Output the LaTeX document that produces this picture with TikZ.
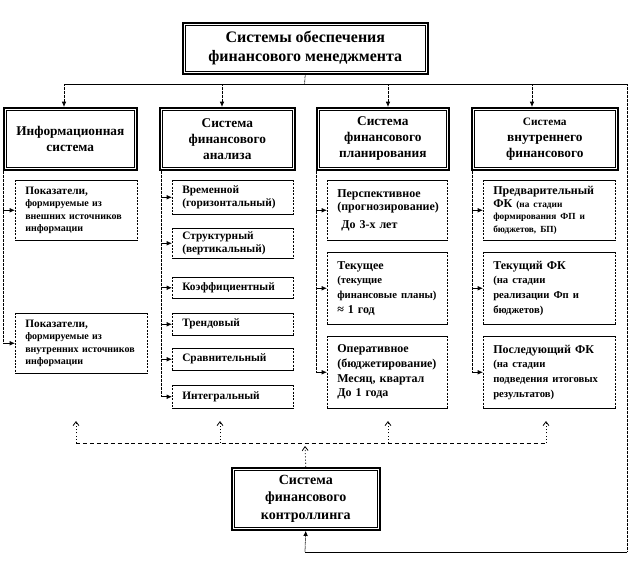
\documentclass[tikz,border=0pt]{standalone}
\usepackage{fontspec}
\setmainfont{Liberation Serif}
\usetikzlibrary{arrows.meta}
\newcommand\setfs[2]{\fontsize{#1}{#2}\selectfont}
\begin{document}
\begin{tikzpicture}[x=0.75pt,y=-0.75pt,
  dbl/.style={draw, line width=1.2pt, anchor=north west, inner sep=0pt, align=center},
  itm/.style={anchor=north west, inner ysep=0pt, inner xsep=7.5pt, align=left},
  thinl/.style={line width=0.6pt},
  dotl/.style={line width=0.6pt, dash pattern=on 0.5pt off 0.5pt},
  sdot/.style={line width=0.6pt, dash pattern=on 0.8pt off 1.6pt},
  dsh/.style={line width=0.6pt, dash pattern=on 3pt off 2.2pt},
  fa/.style={-{Latex[length=4pt,width=3.5pt]}},
  oa/.style={-{Straight Barb[length=3pt,width=4.5pt]}},
  hfont/.style={font={\bfseries\setfs{10}{12}}},
]
\useasboundingbox (0,0) rectangle (640,576);

% main boxes
\node[dbl, minimum width=183.75pt, minimum height=38.25pt, font={\bfseries\setfs{12}{14}}] (top) at (182,22)
  {Системы обеспечения\\финансового менеджмента};
\node[dbl, hfont, minimum width=99.75pt, minimum height=46.5pt] (h1) at (3,107)
  {Информационная\\система};
\node[dbl, hfont, minimum width=101.25pt, minimum height=46.5pt] (h2) at (159,107)
  {Система\\финансового\\анализа};
\node[dbl, hfont, minimum width=99pt, minimum height=46.5pt] (h3) at (316,107)
  {Система\\финансового\\планирования};
\node[dbl, hfont, minimum width=109.5pt, minimum height=46.5pt] (h4) at (471,107)
  {{\setfs{8.5}{12}Система}\\внутреннего\\финансового};
\node[dbl, font={\bfseries\setfs{10.5}{13}}, minimum width=111pt, minimum height=46.5pt] (ctl) at (231,467)
  {Система\\финансового\\контроллинга};

\foreach \n in {top,h1,h2,h3,h4,ctl}
  \draw[line width=0.5pt] ([xshift=2.6pt,yshift=-2.6pt]\n.north west) rectangle ([xshift=-2.6pt,yshift=2.6pt]\n.south east);

% column 1
\node[itm, text width=76.5pt, minimum height=45pt, font={\bfseries\setfs{7.5}{9.4}}] (i11) at (15,180)
  {{\setfs{8.5}{9.4}Показатели,}\\формируемые из\\внешних источников\\информации};
\node[itm, text width=84pt, minimum height=45pt, font={\bfseries\setfs{7.5}{9.4}}] (i12) at (15,313)
  {{\setfs{8.5}{9.4}Показатели,}\\формируемые из\\внутренних источников\\информации};

% column 2
\node[itm, text width=75.75pt, minimum height=25.5pt, font={\bfseries\setfs{8.5}{9.5}}] (i21) at (172,180)
  {Временной\\(горизонтальный)};
\node[itm, text width=75.75pt, minimum height=22.5pt, font={\bfseries\setfs{8.5}{9.5}}] (i22) at (172,228)
  {Структурный\\(вертикальный)};
\node[itm, text width=75.75pt, minimum height=15.75pt, font={\bfseries\setfs{8.5}{9.5}}] (i23) at (172,277)
  {Коэффициентный};
\node[itm, text width=75.75pt, minimum height=16.5pt, font={\bfseries\setfs{8.5}{9.5}}] (i24) at (172,313)
  {Трендовый};
\node[itm, text width=75.75pt, minimum height=16.5pt, font={\bfseries\setfs{8.5}{9.5}}] (i25) at (172,348)
  {Сравнительный};
\node[itm, text width=75.75pt, minimum height=17.25pt, font={\bfseries\setfs{8.5}{9.5}}] (i26) at (172,385)
  {Интегральный};

% column 3
\node[itm, text width=75pt, minimum height=45pt, font={\bfseries\setfs{9}{9.5}}] (i31) at (327,180)
  {Перспективное\\(прогнозирование)\\[4pt]\hspace*{3pt}До 3-х лет};
\node[itm, text width=75pt, minimum height=54pt, font={\bfseries\setfs{9}{11}}] (i32) at (327,252)
  {Текущее\\{\setfs{8}{11}(текущие\\финансовые планы)}\\≈ 1 год};
\node[itm, text width=75pt, minimum height=54pt, font={\bfseries\setfs{9}{11}}] (i33) at (327,336)
  {Оперативное\\(бюджетирование)\\Месяц, квартал\\До 1 года};

% column 4
\node[itm, text width=84pt, minimum height=45pt, font={\bfseries\setfs{9}{9.5}}] (i41) at (483,180)
  {Предварительный\\ФК {\setfs{7}{9.5}(на стадии\\формирования ФП и\\бюджетов, БП)}};
\node[itm, text width=84pt, minimum height=54pt, font={\bfseries\setfs{9}{11}}] (i42) at (483,252)
  {Текущий ФК\\{\setfs{8}{11}(на стадии\\реализации Фп и\\бюджетов)}};
\node[itm, text width=84pt, minimum height=54pt, font={\bfseries\setfs{9}{11}}] (i43) at (483,336)
  {Последующий ФК\\{\setfs{8}{11}(на стадии\\подведения итоговых\\результатов)}};

\foreach \n in {i11,i12,i21,i22,i23,i24,i25,i26,i31,i32,i33,i41,i42,i43} {
  \draw[line width=0.5pt] (\n.north west) -- (\n.north east) (\n.south west) -- (\n.south east);
  \draw[line width=0.5pt, dash pattern=on 1.5pt off 1pt] (\n.north west) -- (\n.south west) (\n.north east) -- (\n.south east);
}

% top connectors
\coordinate (jt) at (304.5,84);
\coordinate (hl) at (64,84);
\coordinate (hr) at (627,84);
\coordinate (a2) at (222,84);
\coordinate (a3) at (388,84);
\coordinate (a4) at (532,84);
\draw[dotl] (top.south) -- (jt);
\draw[thinl] (hl) -- (hr);
\foreach \a/\h in {hl/h1,a2/h2,a3/h3,a4/h4}
  \draw[dotl,fa] (\a) -- (\a |- \h.north);

% right return line
\coordinate (br) at (627,552);
\coordinate (bm) at (305,552);
\draw[dotl] (hr) -- (br);
\draw[thinl] (br) -- (bm);
\draw[dotl,fa] (bm) -- (ctl.south);

% column verticals
\draw[dotl] (h1.south west) -- (h1.south west |- i12.west);
\draw[dotl] ([xshift=1.5pt]h2.south west) -- ([xshift=1.5pt]h2.south west |- i26.west);
\draw[dotl] (h3.south west) -- (h3.south west |- i33.west);
\draw[dotl] ([xshift=0.75pt]h4.south west) -- ([xshift=0.75pt]h4.south west |- i43.west);
\foreach \i in {i11,i12}
  \draw[thinl,fa] (h1.south west |- \i.west) -- (\i.west);
\foreach \i in {i21,i22,i23,i24,i25,i26}
  \draw[thinl,fa] ([xshift=1.5pt]h2.south west |- \i.west) -- (\i.west);
\foreach \i in {i31,i32,i33}
  \draw[thinl,fa] (h3.south west |- \i.west) -- (\i.west);
\foreach \i in {i41,i42,i43}
  \draw[thinl,fa] ([xshift=0.75pt]h4.south west |- \i.west) -- (\i.west);

% bottom feedback arrows
\coordinate (u1) at (76,443);
\coordinate (u2) at (220,443);
\coordinate (u3) at (388,443);
\coordinate (u4) at (546,443);
\coordinate (v1) at (76,421);
\coordinate (v2) at (220,421);
\coordinate (v3) at (388,421);
\coordinate (v4) at (546,421);
\coordinate (ct) at (305,446);
\draw[dsh] (u1) -- (u4);
\foreach \k in {1,2,3,4}
  \draw[sdot,oa] (u\k) -- (v\k);
\draw[sdot,oa] (ctl.north) -- (ct);
\end{tikzpicture}
\end{document}
